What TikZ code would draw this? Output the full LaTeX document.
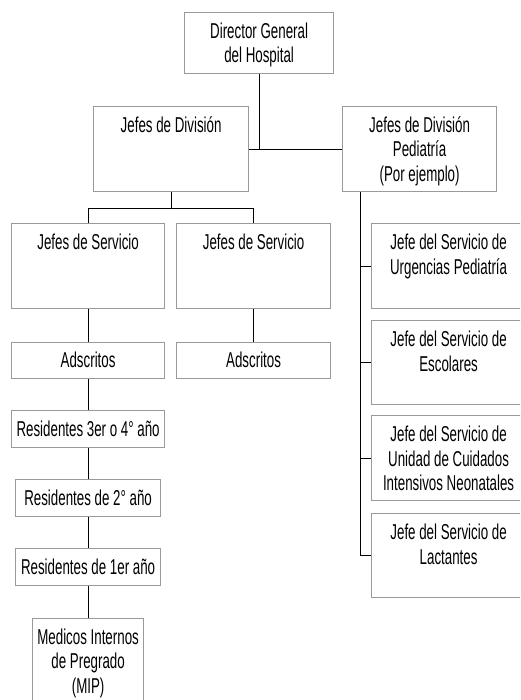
\documentclass[tikz,border=0pt]{standalone}
\usepackage{fontspec}
\setmainfont{Liberation Sans}[FakeStretch=0.62]
\usetikzlibrary{positioning}
\definecolor{boxgray}{HTML}{9A9A9A}
\begin{document}
\begin{tikzpicture}[x=1pt,y=-1pt,
  box/.style={draw=boxgray, line width=1.2pt, fill=white, inner sep=0pt, anchor=north west},
  lbl/.style={align=center, inner sep=0pt, anchor=north, font=\fontsize{21.5}{24.5}\selectfont},
  conn/.style={draw=black, line width=0.9pt}]
\useasboundingbox (0,0) rectangle (520,700);
\clip (0,0) rectangle (520,700);
\fill[white] (0,0) rectangle (520,700);
% boxes
\node[box, minimum width=149pt, minimum height=61pt] (dg) at (184,12) {};
\node[box, minimum width=155pt, minimum height=85pt] (jd) at (93,106) {};
\node[box, minimum width=154pt, minimum height=85pt] (jdp) at (342,106) {};
\node[box, minimum width=153pt, minimum height=85pt] (js1) at (11,223) {};
\node[box, minimum width=154pt, minimum height=85pt] (js2) at (176,223) {};
\node[box, minimum width=153pt, minimum height=36pt] (ad1) at (11,342) {};
\node[box, minimum width=154pt, minimum height=36pt] (ad2) at (176,342) {};
\node[box, minimum width=153pt, minimum height=37pt] (r3) at (11,410) {};
\node[box, minimum width=145pt, minimum height=37pt] (r2) at (15,479) {};
\node[box, minimum width=145pt, minimum height=37pt] (r1) at (15,548) {};
\node[box, minimum width=111pt, minimum height=110pt] (mip) at (32,618) {};
\node[box, minimum width=154pt, minimum height=85pt] (s1) at (371,223) {};
\node[box, minimum width=154pt, minimum height=84pt] (s2) at (371,320) {};
\node[box, minimum width=154pt, minimum height=85pt] (s3) at (371,415) {};
\node[box, minimum width=154pt, minimum height=84pt] (s4) at (371,513) {};
% labels
\node[lbl, below=8.85pt of dg.north] (dgt) {\strut Director General\\del Hospital};
\node[lbl, below=8.85pt of jd.north] (jdt) {\strut Jefes de División};
\node[lbl, below=8.85pt of jdp.north] (jdpt) {\strut Jefes de División\\Pediatría\\(Por ejemplo)};
\node[lbl, below=8.85pt of js1.north] (js1t) {\strut Jefes de Servicio};
\node[lbl, below=8.85pt of js2.north] (js2t) {\strut Jefes de Servicio};
\node[lbl, below=8.35pt of ad1.north] (ad1t) {\strut Adscritos};
\node[lbl, below=8.35pt of ad2.north] (ad2t) {\strut Adscritos};
\node[lbl, below=8.85pt of r3.north] (r3t) {\strut Residentes 3er o 4° año};
\node[lbl, below=8.85pt of r2.north] (r2t) {\strut Residentes de 2° año};
\node[lbl, below=8.85pt of r1.north] (r1t) {\strut Residentes de 1er año};
\node[lbl, below=8.85pt of mip.north] (mipt) {\strut Medicos Internos\\de Pregrado\\(MIP)};
\node[lbl, below=9.5pt of s1.north] (s1t) {\strut Jefe del Servicio de\\Urgencias Pediatría};
\node[lbl, below=9.5pt of s2.north] (s2t) {\strut Jefe del Servicio de\\Escolares};
\node[lbl, below=9.5pt of s3.north] (s3t) {\strut Jefe del Servicio de\\Unidad de Cuidados\\Intensivos Neonatales};
\node[lbl, below=9.5pt of s4.north] (s4t) {\strut Jefe del Servicio de\\Lactantes};
% connectors
\draw[conn] (dg.south) -- (dg.south |- jd.east);
\draw[conn] (jd.east) -- (jdp.west);
\path (jd.south) ++(0,16) coordinate (bj);
\draw[conn] (jd.south) -- (bj);
\draw[conn] (js1.north) |- (bj) -| (js2.north);
\draw[conn] (js1.south) -- (ad1.north);
\draw[conn] (js2.south) -- (ad2.north);
\draw[conn] (ad1.south) -- (r3.north);
\draw[conn] (r3.south) -- (r2.north);
\draw[conn] (r2.south) -- (r1.north);
\draw[conn] (r1.south) -- (mip.north);
\path (jdp.south west) ++(18,0) coordinate (sp);
\draw[conn] (sp) |- (s4.west);
\draw[conn] (sp |- s1.west) -- (s1.west);
\draw[conn] (sp |- s2.west) -- (s2.west);
\draw[conn] (sp |- s3.west) -- (s3.west);
\end{tikzpicture}
\end{document}
